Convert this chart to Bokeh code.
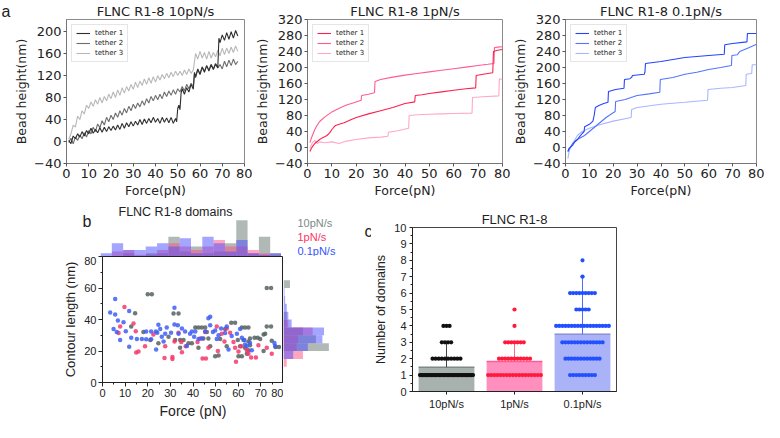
from bokeh.plotting import figure
from bokeh.layouts import row, column
from bokeh.models import (Range1d, FixedTicker, Legend, LegendItem, Spacer, Title)
from bokeh.embed import file_html
from bokeh.resources import INLINE

# ------------------------------------------------------------------ data
FORCE_TICKS = [0, 10, 20, 30, 40, 50, 60, 70, 80]
TETHER_LABELS = ["tether 1", "tether 2", "tether 3"]

# panel a, 10 pN/s
f10_t1 = [1, 2, 3, 4, 5, 6, 7, 8, 9, 10, 11, 12, 13, 14, 15, 16, 17, 18, 19, 20,
          21, 22, 23, 24, 25, 26, 27, 28, 29, 30, 31, 32, 33, 34, 35, 36, 37, 38, 39, 40,
          41, 42, 43, 44, 45, 46, 47, 48, 49, 49.5, 50, 50.5, 51, 51.5, 52, 53, 54, 55, 56, 57,
          57.5, 58, 59, 60, 61, 62, 63, 64, 65, 66, 67, 68, 68.5, 69, 70, 71, 72, 73, 74, 75, 76, 77]
h10_t1 = [2, -4, 10, 5, 14, 8, 18, 10, 20, 14, 24, 15, 22, 16, 25, 17, 26, 18, 27, 20,
          28, 21, 30, 22, 33, 24, 34, 27, 36, 28, 37, 30, 40, 31, 41, 33, 42, 34, 44, 35,
          42, 33, 44, 35, 43, 34, 44, 33, 42, 36, 60, 66, 58, 88, 96, 86, 98, 90, 104, 95,
          126, 118, 132, 122, 135, 126, 138, 128, 140, 131, 141, 134, 188, 180, 194, 184, 198, 186, 200, 188, 202, 192]
f10_t2 = [1, 2, 3, 4, 5, 6, 7, 8, 9, 10, 11, 12, 13, 14, 15, 16, 17, 18, 19, 20,
          21, 22, 23, 24, 25, 26, 27, 28, 29, 30, 31, 32, 33, 34, 35, 36, 37, 38, 39, 40,
          41, 42, 43, 44, 45, 46, 47, 48, 49, 50, 51, 52, 53, 54, 55, 56, 57, 57.5,
          58, 59, 60, 61, 62, 63, 64, 65, 66, 67, 68, 69, 70, 71, 72, 73, 74, 75, 76, 77]
h10_t2 = [-2, 6, -4, 8, 2, 12, 5, 16, 8, 20, 14, 26, 18, 32, 25, 38, 30, 44, 36, 48,
          40, 52, 44, 56, 48, 60, 52, 64, 56, 68, 60, 70, 63, 74, 66, 78, 70, 82, 74, 84,
          76, 86, 78, 90, 82, 92, 84, 94, 86, 96, 90, 100, 92, 104, 96, 106, 100, 122,
          116, 130, 124, 136, 128, 138, 130, 140, 132, 142, 134, 140, 132, 146, 136, 148, 138, 150, 140, 146]
f10_t3 = [1, 2, 3, 4, 5, 6, 7, 8, 9, 10, 11, 12, 13, 14, 15, 16, 17, 18, 19, 20,
          21, 22, 23, 24, 25, 26, 27, 28, 29, 30, 31, 32, 33, 34, 35, 36, 37, 38, 39, 40,
          41, 42, 43, 44, 45, 46, 47, 48, 49, 50, 51, 52, 53, 54, 55, 56, 57, 58, 59, 60,
          61, 62, 63, 64, 65, 66, 67, 68, 69, 70, 71, 72, 73, 74, 75, 76, 77]
h10_t3 = [4, 14, 30, 26, 46, 40, 56, 50, 66, 60, 72, 64, 76, 68, 80, 70, 82, 74, 86, 78,
          90, 80, 94, 84, 98, 88, 100, 92, 104, 95, 108, 98, 110, 102, 114, 104, 116, 106, 118, 108,
          120, 112, 122, 114, 124, 116, 126, 118, 128, 120, 128, 120, 130, 122, 132, 124, 130, 160, 150, 164,
          152, 162, 150, 164, 152, 162, 154, 166, 156, 170, 158, 170, 160, 172, 162, 174, 164]

# panel a, 1 pN/s
f1_t1 = [1, 1.5, 2, 3, 4, 5, 6, 7, 8, 9, 10, 11, 11.5, 13, 15, 18, 20, 25, 30, 35,
         40, 44, 44.2, 47, 50, 55, 60, 65, 69, 69.2, 72, 76, 76.3, 78, 80]
h1_t1 = [-10, -3, 2, 10, 15, 20, 24, 27, 30, 36, 45, 52, 55, 58, 62, 70, 75, 84, 92, 100,
         110, 114, 130, 132, 135, 139, 143, 147, 149, 180, 183, 187, 240, 243, 245]
f1_t2 = [1, 1.5, 2, 3, 4, 5, 7, 10, 13, 16, 19, 22, 22.2, 25, 27.5, 27.7, 30, 35, 40, 45,
         50, 55, 60, 65, 70, 74, 76.5, 76.7, 78, 80]
h1_t2 = [12, 22, 30, 45, 56, 65, 76, 89, 98, 106, 112, 118, 130, 133, 137, 165, 170, 176, 181, 185,
         189, 193, 197, 201, 205, 208, 210, 250, 251, 252]
f1_t3 = [1, 2, 3, 4, 5, 7, 10, 13, 16, 20, 25, 30, 33, 33.2, 37, 41.5, 41.7, 45, 50, 55,
         60, 67.5, 67.7, 72, 78.5, 78.7, 80]
h1_t3 = [-2, 12, 18, 10, 14, 12, 14, 10, 16, 20, 24, 26, 28, 38, 42, 48, 80, 82, 83, 84,
         85, 86, 125, 127, 129, 172, 170]

# panel a, 0.1 pN/s
f01_t1 = [1, 1.5, 2, 3, 4, 5, 6, 7, 7.8, 8, 10, 11.5, 12, 12.5, 14, 16, 17.8, 18, 21, 24.5,
          24.7, 27, 27.8, 28, 33, 33.3, 33.5, 40, 50, 60, 66.5, 66.7, 70, 76, 76.2, 80]
h01_t1 = [-10, -2, 0, 6, 15, 20, 28, 35, 40, 52, 58, 66, 80, 100, 105, 110, 113, 140, 145, 148,
          170, 172, 176, 180, 183, 190, 210, 215, 225, 230, 233, 257, 260, 264, 285, 285]
f01_t2 = [1, 2, 3, 5, 8, 10, 12, 14, 15, 17, 19.5, 20.8, 21, 25, 30, 35, 39.5, 39.7, 45, 50,
          55, 60, 65, 69.5, 69.7, 72, 73, 77, 80]
h01_t2 = [-10, 0, 10, 20, 30, 40, 50, 60, 65, 75, 85, 90, 115, 120, 130, 134, 138, 170, 175, 183,
          188, 195, 200, 205, 230, 232, 240, 250, 258]
f01_t3 = [1, 1.5, 2, 3, 4, 5, 7, 10, 15, 20, 25, 27.5, 27.7, 30, 40, 50, 59.5, 59.7, 65, 70,
          75.5, 75.7, 78, 78.2, 80]
h01_t3 = [-28, -10, 0, 10, 20, 30, 40, 48, 58, 66, 72, 75, 95, 100, 108, 113, 118, 145, 148, 150,
          155, 183, 185, 207, 207]

# panel b, scatter (force pN, contour length nm)
force_10 = [20, 21.8, 14.4, 12.7, 18.1, 21.1, 24.7, 29.2, 31.4, 33.6, 32.1, 34.3, 34.3, 35.8, 38,
            39.5, 41, 42.4, 43.9, 45.4, 46.1, 44.6, 42.4, 46.8, 47.6, 49.8, 51.3, 52, 54.9, 56.9,
            58.6, 59.8, 60.8, 61.6, 63, 64.5, 60.1, 61.6, 62.3, 63, 64.5, 65.2, 67.2, 68.6, 69.7,
            71.2, 71.9, 72.6, 74.5, 71.2, 72.6, 74.5, 74.8, 76.5, 78, 65.2, 64.5, 63.8, 54.2]
contour_10 = [56, 56, 44, 35.5, 32, 27, 25, 29, 43.8, 43.8, 27, 27, 22, 27, 25,
              25, 35, 35, 35, 35, 32, 28, 22, 28, 23, 16.6, 17.2, 27.6, 23, 38,
              38, 27, 23, 35, 35, 35, 16.6, 16.6, 27, 22, 26, 28, 28.4, 28.4, 27.6,
              30.4, 31, 35.5, 35.5, 20, 60, 60, 26.5, 22.5, 22.5, 23.7, 20.5, 18.2, 34]
force_1 = [9.7, 7.8, 7.1, 13.7, 14.7, 14.9, 15.9, 18.8, 22.5, 27.7, 27.4, 30.9, 30.9, 31.8, 33.6,
           34.8, 35.1, 36.8, 42, 43.2, 44.2, 45.7, 45.4, 46.8, 50.5, 51, 52.7, 53.9, 54.9, 56.4,
           57.9, 58.6, 59, 60.1, 61.3, 63.8, 64.5, 65.7, 67.8, 68.9, 72.6, 74.8]
contour_1 = [48, 35.5, 31.4, 37.5, 32.6, 19, 19.7, 23, 30.4, 23, 15.6, 16.2, 15, 26, 31.6,
             25.7, 19.2, 23, 25.7, 28, 15.2, 15.2, 32, 22, 35.5, 20, 31, 26, 34.3, 31.6,
             25.7, 22, 13.2, 19.7, 23, 20.5, 18.2, 15.8, 15.8, 23.7, 22, 18.2]
force_01 = [3.4, 5.6, 5.6, 6.8, 4.9, 6.3, 7.8, 9.3, 10.3, 11.8, 12.7, 11.8, 15.2, 17.4, 19.3, 19.3,
            21.5, 21.5, 23.6, 24.2, 24.7, 23.7, 25.5, 26.2, 27, 27.7, 28.4, 30.3, 31.8, 31.8,
            33.3, 33.6, 35.1, 36.5, 37.3, 38.7, 39.5, 40.5, 41, 42.4, 43.9, 45.4, 46.8, 47.6, 47.6,
            48.8, 49.8, 50.5, 51.3, 52.4, 54.2, 54.9, 55.7, 57.1, 59.4, 60.8, 61.6, 62.7, 63, 63.8,
            65.2, 66, 76, 76.3]
contour_01 = [44.4, 53, 43.2, 39.3, 34, 32, 27, 38.3, 32.6, 45.4, 28.4, 22.7, 27.6, 27.6, 32.4, 27.4,
              32.4, 27.4, 32.4, 31.6, 36.7, 20.9, 33.9, 29, 26.1, 31, 34.9, 31.6, 47.4, 36.9,
              36.3, 31, 34.3, 32.4, 23.1, 31, 32.4, 29, 32.4, 27.6, 28, 32.4, 40.8, 41.8, 36.3,
              32, 33, 27.6, 30, 34.3, 31.4, 35.5, 20.9, 29.6, 31, 33.9, 28.4, 27, 24.1, 23.1,
              25.1, 20.5, 25.1, 23.1]

# panel b, marginal histograms (bins of 5)
BIN_EDGES = [0, 5, 10, 15, 20, 25, 30, 35, 40, 45, 50, 55, 60, 65, 70, 75, 80]
top_10 = [0, 0, 1, 0, 1, 1, 6, 1.5, 3, 1, 1.5, 4, 11, 1, 6, 1]
top_1 = [0, 1.5, 2, 0.5, 0.5, 2, 4, 3, 2, 3, 5, 3, 3, 2, 1, 0.3]
top_01 = [1, 4, 2, 2, 3, 4, 3, 5.5, 1, 6, 4, 1.5, 5, 1, 0.5, 1]
right_10 = [0, 0, 0, 0, 14, 10, 6, 1, 1, 0, 0, 0, 2, 0, 0, 0]
right_1 = [0, 0, 1, 6, 4, 4.5, 9, 1.5, 0, 0, 0, 0, 0, 0, 0, 0]
right_01 = [0, 0, 0, 3, 7.5, 12, 12.5, 2.5, 1.5, 1, 0.5, 0.3, 0, 0, 0, 0]
RATES = ["10pN/s", "1pN/s", "0.1pN/s"]
RATE_COLORS = ["#7d8a87", "#ff3366", "#3355ff"]

# panel c
categories = ["10pN/s", "1pN/s", "0.1pN/s"]
means = [1.48, 1.83, 3.5]
err_top = [3.0, 3.05, 7.0]
counts_10 = [42, 10, 4, 3]
counts_1 = [18, 11, 7, 1, 1]
counts_01 = [9, 12, 14, 18, 5, 9, 1, 1]

# ------------------------------------------------------------------ styles
DJ = "DejaVu Sans"
AR = "Liberation Sans"
TXT = "#222222"


def bare_fig(w, h):
    p = figure(width=w, height=h, x_range=Range1d(0, 1), y_range=Range1d(0, 1),
               output_backend="svg", toolbar_location=None,
               x_axis_location=None, y_axis_location=None,
               min_border_left=0, min_border_right=0, min_border_top=0, min_border_bottom=0)
    p.outline_line_color = None
    p.xgrid.visible = False
    p.ygrid.visible = False
    return p


def style_title(t, font, size, color=TXT, align="left", offset=0):
    t.text_font = font
    t.text_font_size = size
    t.text_font_style = "normal"
    t.text_color = color
    t.align = align
    t.offset = offset
    t.standoff = 0


def letter_fig(letter, w, h, offset):
    p = bare_fig(w, h)
    p.title.text = letter
    style_title(p.title, AR, "16px", offset=offset)
    return p


def trace_fig(title, ymax, yticks, traces, colors, width):
    p = figure(width=width, height=200, x_range=Range1d(0, 80), y_range=Range1d(-40, ymax),
               output_backend="svg", toolbar_location=None,
               min_border_left=10, min_border_right=8, min_border_top=0, min_border_bottom=0)
    p.title.text = title
    style_title(p.title, DJ, "13px", align="center")
    p.title.standoff = 1
    p.xgrid.visible = False
    p.ygrid.visible = False
    p.outline_line_color = "#8a8a8a"
    p.xaxis.ticker = FixedTicker(ticks=FORCE_TICKS)
    p.yaxis.ticker = FixedTicker(ticks=yticks)
    p.yaxis.major_label_overrides = {-40: "\u221240"}
    p.xaxis.axis_label = "Force(pN)"
    p.yaxis.axis_label = "Bead height(nm)"
    for ax in (p.xaxis[0], p.yaxis[0]):
        ax.major_label_text_font = DJ
        ax.major_label_text_font_size = "13px"
        ax.major_label_text_color = TXT
        ax.axis_label_text_font = DJ
        ax.axis_label_text_font_size = "12.5px"
        ax.axis_label_text_font_style = "normal"
        ax.axis_label_text_color = TXT
        ax.axis_line_color = "#777777"
        ax.major_tick_line_color = "#555555"
        ax.major_tick_in = 0
        ax.major_tick_out = 3
        ax.minor_tick_in = 0
        ax.minor_tick_out = 0
        ax.major_label_standoff = 2
        ax.axis_label_standoff = 2
    rends = []
    for (fx, hy), c in zip(traces, colors):
        rends.append(p.line(fx, hy, line_color=c, line_width=1.1))
    p.renderers = p.renderers[::-1]
    items = [LegendItem(label=lab, renderers=[r]) for lab, r in zip(TETHER_LABELS, rends)]
    leg = Legend(items=items, location="top_left", label_text_font=DJ,
                 label_text_font_size="7px", label_text_color=TXT,
                 glyph_width=14, glyph_height=8, label_height=8, label_standoff=5,
                 spacing=2, padding=4, margin=5, border_line_color="#cccccc")
    p.add_layout(leg)
    return p


la = letter_fig("a", 11, 200, 1)
a1 = trace_fig("FLNC R1-8 10pN/s", 222, [-40, 0, 40, 80, 120, 160, 200],
               [(f10_t1, h10_t1), (f10_t2, h10_t2), (f10_t3, h10_t3)],
               ["#2f2f2f", "#6e6e6e", "#b8b8b8"], 241)
a2 = trace_fig("FLNC R1-8 1pN/s", 320, [-40, 0, 40, 80, 120, 160, 200, 240, 280, 320],
               [(f1_t1, h1_t1), (f1_t2, h1_t2), (f1_t3, h1_t3)],
               ["#ff1f4e", "#ff5c8e", "#ffa8c8"], 258)
a3 = trace_fig("FLNC R1-8 0.1pN/s", 320, [-40, 0, 40, 80, 120, 160, 200, 240, 280, 320],
               [(f01_t1, h01_t1), (f01_t2, h01_t2), (f01_t3, h01_t3)],
               ["#2444ff", "#5574ff", "#a8b6ff"], 254)

# ------------------------------------------------------------------ panel b
GRAY, PINK, BLUE = "#7d8a87", "#ff4d80", "#4a4cff"
left_edges = BIN_EDGES[:-1]
right_edges = BIN_EDGES[1:]

lb = column(Spacer(width=40, height=10), letter_fig("b", 40, 46, 22))

ph = figure(frame_width=181, frame_height=38, x_range=Range1d(0, 80), y_range=Range1d(0, 11.5),
            output_backend="svg", toolbar_location=None, x_axis_location=None, y_axis_location=None,
            min_border_left=0, min_border_right=0, min_border_top=16, min_border_bottom=0)
ph.title.text = "FLNC R1-8 domains"
style_title(ph.title, AR, "12.5px", offset=18)
ph.outline_line_color = None
ph.xgrid.visible = False
ph.ygrid.visible = False
for vals, c, a in ((top_10, GRAY, 0.6), (top_1, PINK, 0.5), (top_01, BLUE, 0.5)):
    ph.quad(left=left_edges, right=right_edges, bottom=0, top=vals,
            fill_color=c, fill_alpha=a, line_color=None)
ph_col = column(Spacer(width=181, height=2), ph)

# rate legend: three stacked titles below an empty frame
# (titles added first sit next to the frame; the built-in title is outermost)
PL_W = 60
pl = bare_fig(PL_W, 56)
pl.title_location = "below"
pl.title.text = RATES[2]
style_title(pl.title, AR, "11px", color=RATE_COLORS[2], offset=16)
pl.title.text_line_height = 0.9
for lab, col in zip(RATES[:2], RATE_COLORS[:2]):
    t = Title(text=lab)
    style_title(t, AR, "11px", color=col, offset=16)
    t.text_line_height = 0.9
    pl.add_layout(t, "below")

pm = figure(frame_width=181, frame_height=126, x_range=Range1d(0, 80), y_range=Range1d(0, 80),
            output_backend="svg", toolbar_location=None,
            min_border_left=40, min_border_right=0, min_border_top=0, min_border_bottom=40)
pm.xgrid.visible = False
pm.ygrid.visible = False
pm.outline_line_color = "#222222"
pm.xaxis.ticker = FixedTicker(ticks=FORCE_TICKS, minor_ticks=[5, 15, 25, 35, 45, 55, 65, 75])
pm.yaxis.ticker = FixedTicker(ticks=[0, 20, 40, 60, 80], minor_ticks=[10, 30, 50, 70])
pm.xaxis.axis_label = "Force (pN)"
pm.yaxis.axis_label = "Contour length (nm)"
for ax, fs in ((pm.xaxis[0], "14px"), (pm.yaxis[0], "13px")):
    ax.major_label_text_font = AR
    ax.major_label_text_font_size = "11px"
    ax.major_label_text_color = TXT
    ax.axis_label_text_font = AR
    ax.axis_label_text_font_size = fs
    ax.axis_label_text_font_style = "normal"
    ax.axis_label_text_color = TXT
    ax.axis_line_color = "#222222"
    ax.major_tick_line_color = "#222222"
    ax.minor_tick_line_color = "#222222"
    ax.major_tick_in = 0
    ax.major_tick_out = 4
    ax.minor_tick_in = 0
    ax.minor_tick_out = 2
    ax.major_label_standoff = 2
    ax.axis_label_standoff = 3
for fx, cy, c in ((force_10, contour_10, "#56625f"), (force_1, contour_1, "#f5386b"),
                  (force_01, contour_01, "#3f5ff5")):
    pm.scatter(fx, cy, size=4.5, fill_color=c, fill_alpha=0.85, line_color=None)

pr = figure(frame_width=47, frame_height=126, x_range=Range1d(0, 14.5), y_range=Range1d(0, 80),
            output_backend="svg", toolbar_location=None, x_axis_location=None, y_axis_location=None,
            min_border_left=0, min_border_right=PL_W - 47, min_border_top=0, min_border_bottom=40)
pr.outline_line_color = None
pr.xgrid.visible = False
pr.ygrid.visible = False
for vals, c, a in ((right_10, GRAY, 0.6), (right_1, PINK, 0.5), (right_01, BLUE, 0.5)):
    pr.quad(left=0, right=vals, bottom=left_edges, top=right_edges,
            fill_color=c, fill_alpha=a, line_color=None)

col_b = column(row(lb, ph_col, pl), row(pm, pr))

# ------------------------------------------------------------------ panel c
xs = [1, 2, 3]
bar_fill = ["#a7b1ae", "#ff8fbf", "#aab3f7"]
bar_edge = ["#7f8a87", "#ff5c96", "#8088c8"]
dot_col = ["#111111", "#ff1a3c", "#2250ff"]
err_col = ["#444444", "#ff6a8a", "#4d6cff"]
BAR_W = 0.82

lc = column(Spacer(width=28, height=20), letter_fig("c", 28, 202, 21))

pc = figure(width=255, height=214, x_range=Range1d(0.5, 3.5), y_range=Range1d(0, 10),
            output_backend="svg", toolbar_location=None,
            min_border_left=38, min_border_right=10, min_border_top=19, min_border_bottom=31)
pc.title.text = "FLNC R1-8"
style_title(pc.title, AR, "13px", align="center")
pc.title.standoff = 2
pc.xgrid.visible = False
pc.ygrid.visible = False
pc.outline_line_color = "#444444"
yt = list(range(0, 11))
ymin = [0.5, 1.5, 2.5, 3.5, 4.5, 5.5, 6.5, 7.5, 8.5, 9.5]
pc.yaxis.ticker = FixedTicker(ticks=yt, minor_ticks=ymin)
pc.xaxis.ticker = FixedTicker(ticks=xs)
pc.xaxis.major_label_overrides = {x: c for x, c in zip(xs, categories)}
pc.yaxis.axis_label = "Number of domains"
for ax in (pc.xaxis[0], pc.yaxis[0]):
    ax.major_label_text_font = AR
    ax.major_label_text_font_size = "11px"
    ax.major_label_text_color = TXT
    ax.axis_label_text_font = AR
    ax.axis_label_text_font_size = "12.5px"
    ax.axis_label_text_font_style = "normal"
    ax.axis_label_text_color = TXT
    ax.axis_line_color = "#222222"
    ax.major_tick_line_color = "#222222"
    ax.minor_tick_line_color = "#222222"
    ax.major_tick_in = 0
    ax.major_tick_out = 3
    ax.minor_tick_in = 0
    ax.minor_tick_out = 2
    ax.major_label_standoff = 3
    ax.axis_label_standoff = 3

pc.vbar(x=xs, top=means, bottom=0, width=BAR_W, fill_color=bar_fill, line_color=None)
pc.segment(x0=[x - BAR_W / 2 for x in xs], y0=means, x1=[x + BAR_W / 2 for x in xs], y1=means,
           line_color=bar_edge, line_width=1.3)
pc.segment(x0=xs, y0=means, x1=xs, y1=err_top, line_color=err_col, line_width=1)
pc.segment(x0=[x - 0.035 for x in xs], y0=err_top, x1=[x + 0.035 for x in xs], y1=err_top,
           line_color=err_col, line_width=1)

DOT_DX = 0.0456
for xc, counts, c in zip(xs, (counts_10, counts_1, counts_01), dot_col):
    dx_list, dy_list = [], []
    for lvl, n in enumerate(counts, start=1):
        step = DOT_DX
        if n > 1 and (n - 1) * step > 0.78:
            step = 0.78 / (n - 1)
        for i in range(n):
            dx_list.append(xc + (i - (n - 1) / 2) * step)
            dy_list.append(lvl)
    pc.scatter(dx_list, dy_list, size=4.2, fill_color=c, line_color=None)

pc_col = column(Spacer(width=255, height=8), pc)

layout = column(row(la, a1, a2, a3),
                row(Spacer(width=60, height=222), col_b, lc, pc_col))

open("out.html", "w").write(file_html(layout, INLINE))
